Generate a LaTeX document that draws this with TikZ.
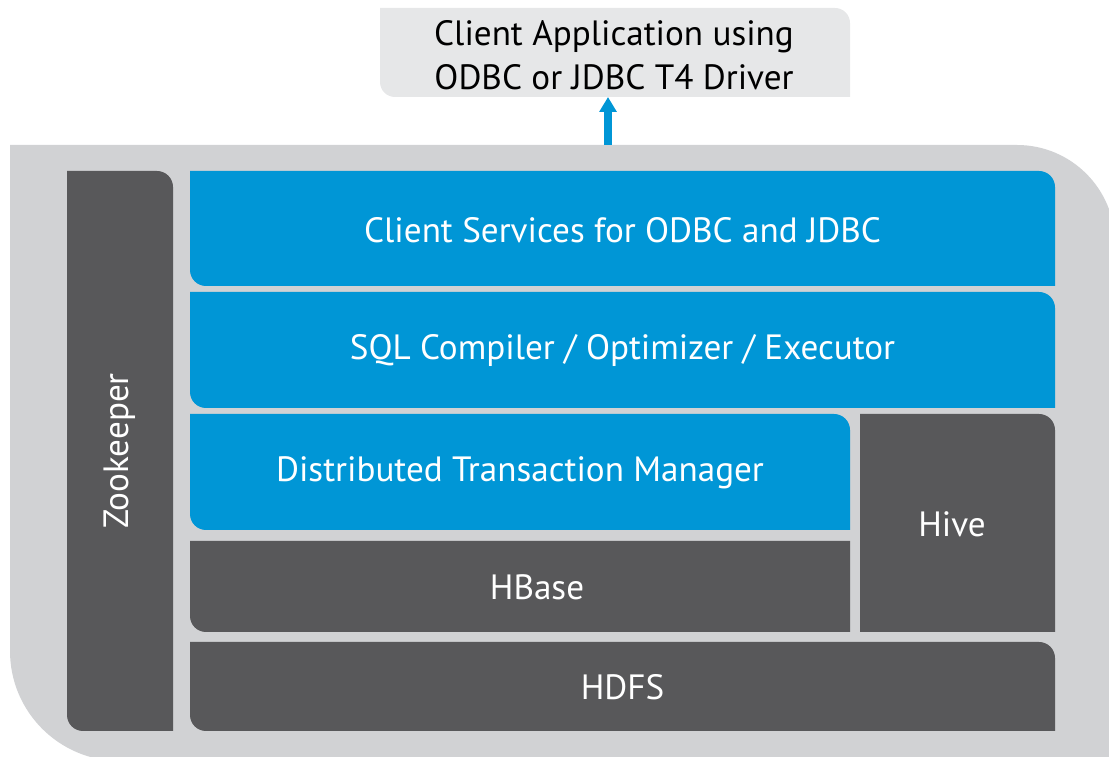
\documentclass[tikz,border=0pt]{standalone}
\usepackage{fontspec}
\setmainfont{PT Sans}
\usetikzlibrary{arrows.meta}
\definecolor{hpblue}{HTML}{0096D6}
\definecolor{hpdark}{HTML}{58585A}
\definecolor{hpgray}{HTML}{D1D2D4}
\definecolor{hplight}{HTML}{E6E7E8}
% leaf box: colour, left, bottom, right, top, top-right radius, bottom-left radius
\newcommand\leafbox[7]{\fill[#1] (#2,#5) -- ({#4-#6},#5) arc[start angle=90,end angle=0,radius=#6] -- (#4,#3) -- ({#2+#7},#3) arc[start angle=270,end angle=180,radius=#7] -- cycle;}
\tikzset{
  layer/.style={text=white,font=\fontsize{20}{24}\selectfont},
  client/.style={text=black,font=\fontsize{20}{25}\selectfont,align=center}
}
\begin{document}
\begin{tikzpicture}[x=0.02cm,y=0.02cm]
\useasboundingbox (0,0) rectangle (1109,757);
% outer frame
\fill[hpgray] (10,612) -- (1017,612) arc[start angle=90,end angle=0,radius=98] -- (1115,-10) -- (120,-4) arc[start angle=270,end angle=180,radius=110] -- cycle;
% client application
\leafbox{hplight}{380}{660}{850}{749}{15}{15}
\node[client] (app) at (614,702) {Client Application using\\ODBC or JDBC T4 Driver};
\coordinate (frametop) at (608,612);
\coordinate (appbase) at (608,660);
\draw[hpblue,line width=4.5pt,-{Triangle[width=9.5pt,length=8.5pt]}] (frametop) -- (appbase);
% layers
\leafbox{hpdark}{67}{26}{173}{586}{16}{16}
\node[layer,rotate=90] (zoo) at (120,306) {Zookeeper};
\leafbox{hpblue}{190}{471}{1055}{586}{16}{16}
\node[layer] (cs) at (622.5,527) {Client Services for ODBC and JDBC};
\leafbox{hpblue}{190}{349}{1055}{465}{16}{16}
\node[layer] (sql) at (622.5,406) {SQL Compiler / Optimizer / Executor};
\leafbox{hpblue}{190}{227}{850}{343}{16}{16}
\node[layer] (dtm) at (520,284) {Distributed Transaction Manager};
\leafbox{hpdark}{190}{125}{850}{216}{0.01}{16}
\node[layer] (hbase) at (537,169.5) {HBase};
\leafbox{hpdark}{860}{125}{1055}{343}{16}{0.01}
\node[layer] (hive) at (952,233) {Hive};
\leafbox{hpdark}{190}{26}{1055}{115}{16}{16}
\node[layer] (hdfs) at (622.5,69.5) {HDFS};
\end{tikzpicture}
\end{document}
